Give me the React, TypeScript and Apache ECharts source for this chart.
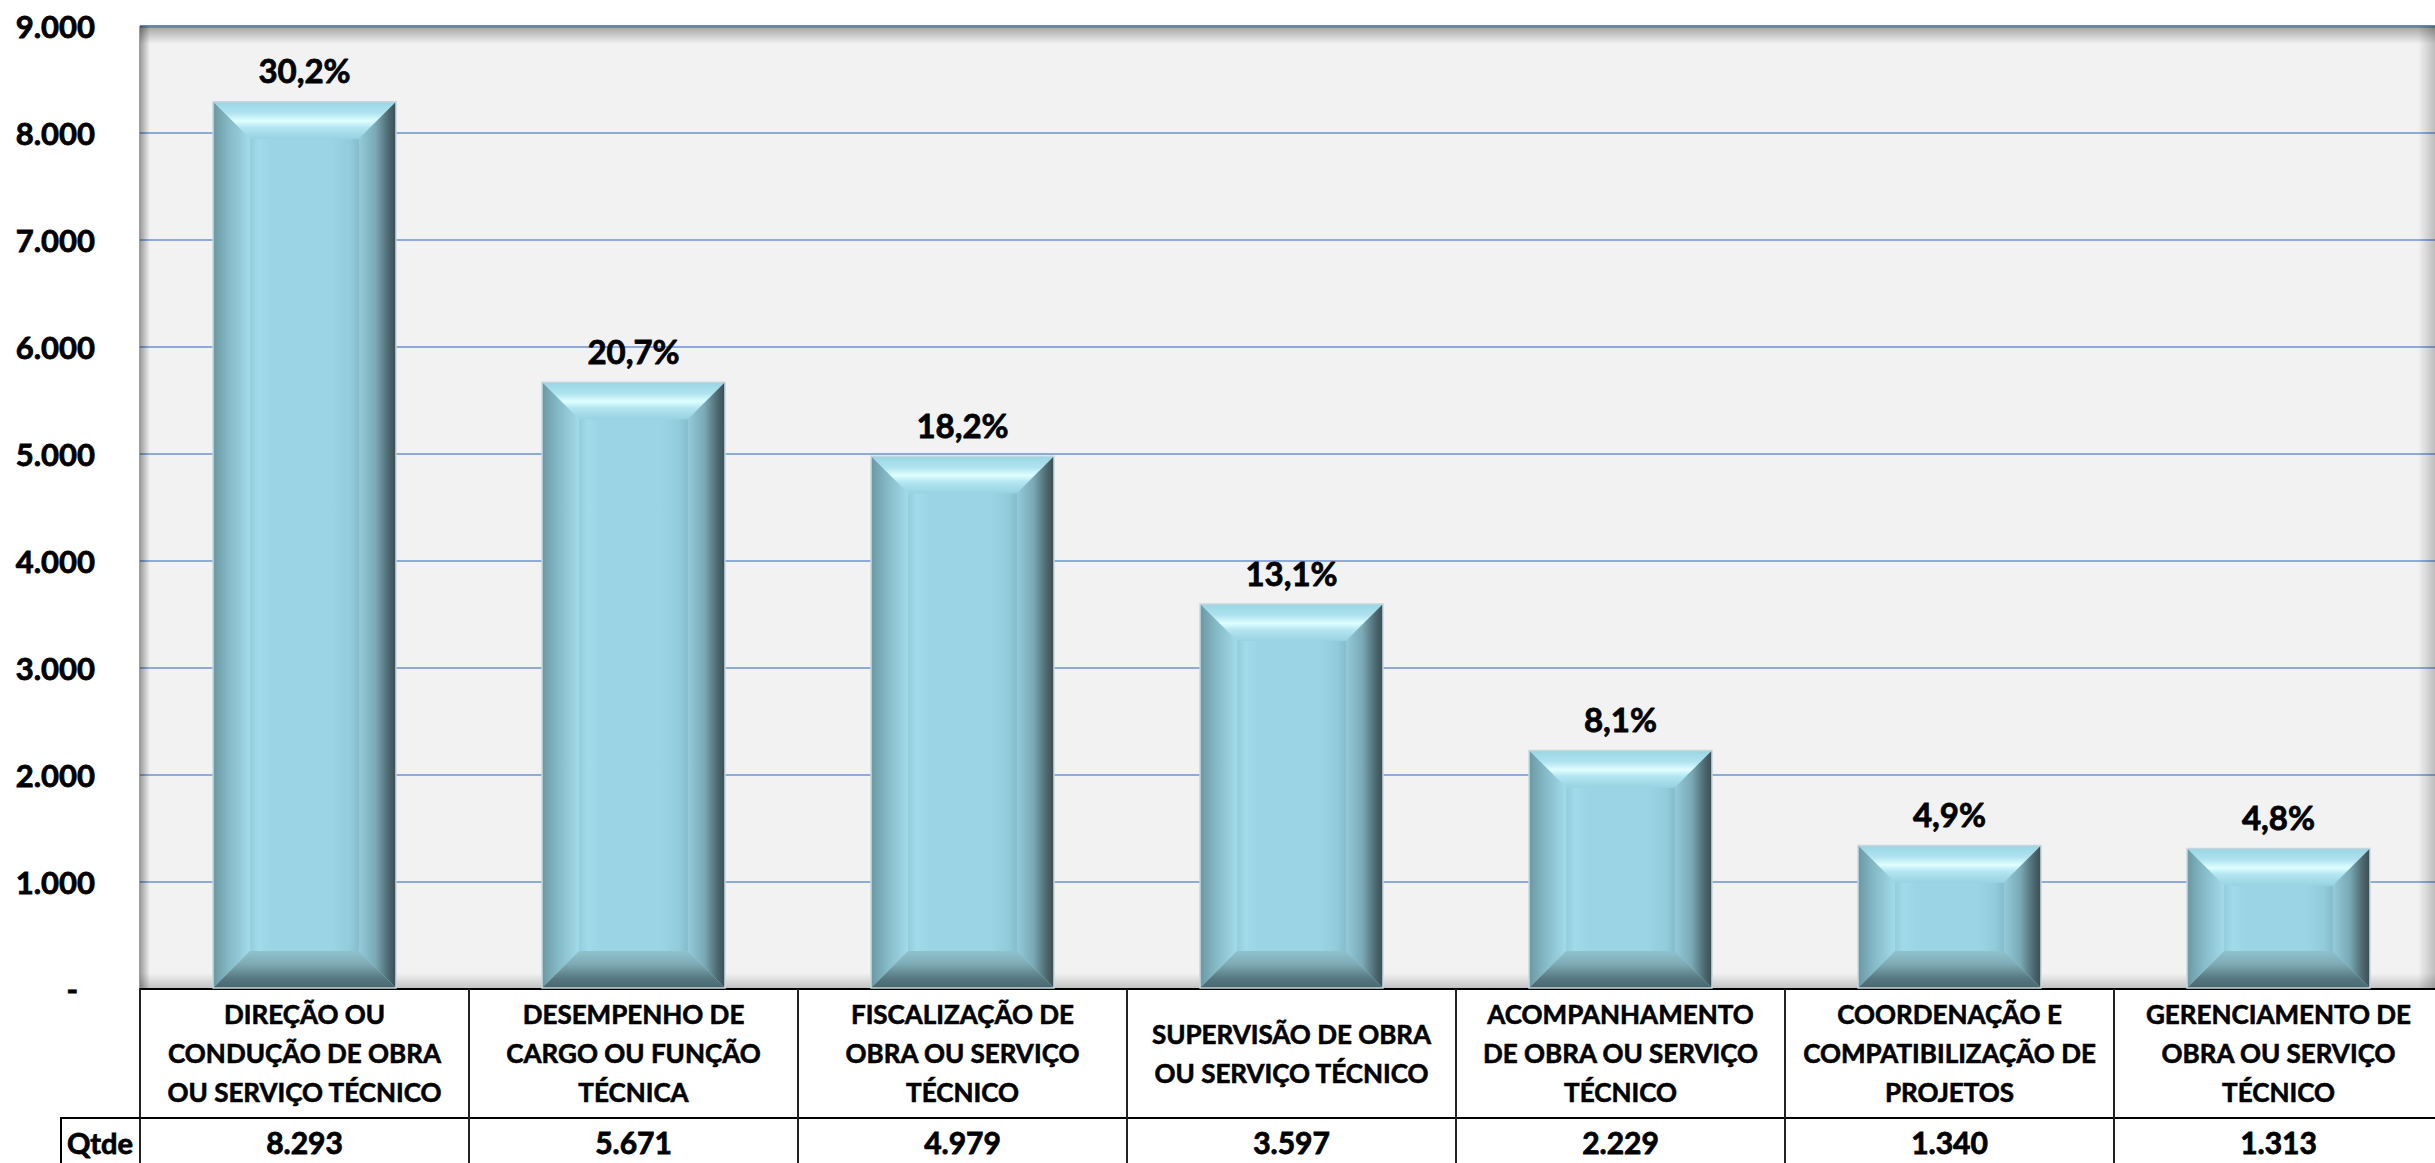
import React, { useEffect, useRef } from 'react';
import * as echarts from 'echarts';

const categories = [
  'DIREÇÃO OU\nCONDUÇÃO DE OBRA\nOU SERVIÇO TÉCNICO',
  'DESEMPENHO DE\nCARGO OU FUNÇÃO\nTÉCNICA',
  'FISCALIZAÇÃO DE\nOBRA OU SERVIÇO\nTÉCNICO',
  'SUPERVISÃO DE OBRA\nOU SERVIÇO TÉCNICO',
  'ACOMPANHAMENTO\nDE OBRA OU SERVIÇO\nTÉCNICO',
  'COORDENAÇÃO E\nCOMPATIBILIZAÇÃO DE\nPROJETOS',
  'GERENCIAMENTO DE\nOBRA OU SERVIÇO\nTÉCNICO',
];
const quantities = [8293, 5671, 4979, 3597, 2229, 1340, 1313];
const percentLabels = ['30,2%', '20,7%', '18,2%', '13,1%', '8,1%', '4,9%', '4,8%'];
const rowHeader = 'Qtde';
const yMin = 0;
const yMax = 9000;
const yInterval = 1000;

const FONT = 'Lato, "Open Sans", sans-serif';
const WEIGHT = 'bold';
const HEAVY = { textBorderColor: '#000', textBorderWidth: 0.8 };

const fmt = (v: number) => String(Math.round(v)).replace(/\B(?=(\d{3})+(?!\d))/g, '.');

const W = 2443;
const H = 1163;
const GL = 140;
const GT = 26;
const GB = 989;

export default function App() {
  const ref = useRef<HTMLDivElement>(null);
  useEffect(() => {
    if (!ref.current) return;
    const chart = echarts.init(ref.current, null, { renderer: 'svg' });
    const lg = (x1: number, y1: number, x2: number, y2: number, stops: [number, string][]) =>
      new echarts.graphic.LinearGradient(x1, y1, x2, y2, stops.map(([offset, color]) => ({ offset, color })));

    const option: any = {
      animation: false,
      backgroundColor: '#ffffff',
      grid: {
        left: GL,
        top: GT,
        right: 0,
        bottom: H - GB,
        show: true,
        backgroundColor: '#f2f2f2',
        borderWidth: 0,
      },
      xAxis: [
        {
          type: 'category',
          data: categories,
          position: 'bottom',
          axisLine: { show: true, lineStyle: { color: '#000', width: 2 } },
          axisTick: { show: true, inside: false, length: 180, interval: 0, lineStyle: { color: '#222', width: 2 } },
          axisLabel: {
            interval: 0,
            margin: 64,
            verticalAlign: 'middle',
            lineHeight: 39,
            fontFamily: FONT,
            fontWeight: WEIGHT,
            fontSize: 26,
            color: '#000',
            ...HEAVY,
            textBorderWidth: 0.6,
          },
          splitLine: { show: false },
        },
        {
          type: 'category',
          data: quantities.map(fmt),
          position: 'bottom',
          offset: 1118 - GB,
          axisLine: { show: true, lineStyle: { color: '#000', width: 2 } },
          axisTick: { show: false },
          axisLabel: {
            interval: 0,
            margin: 24,
            verticalAlign: 'middle',
            fontFamily: FONT,
            fontWeight: WEIGHT,
            fontSize: 30,
            color: '#000',
            ...HEAVY,
          },
          splitLine: { show: false },
        },
      ],
      yAxis: {
        type: 'value',
        min: yMin,
        max: yMax,
        interval: yInterval,
        axisLine: { show: false },
        axisTick: { show: false },
        splitLine: { show: true, lineStyle: { color: '#8eaadb', width: 2 } },
        axisLabel: {
          margin: 45,
          fontFamily: FONT,
          fontWeight: WEIGHT,
          fontSize: 31,
          color: '#000',
          ...HEAVY,
          formatter: (v: number) => (v === 0 ? '{z|-}' : fmt(v)),
          rich: {
            z: { fontFamily: FONT, fontWeight: WEIGHT, fontSize: 31, color: '#000', padding: [0, 17, 0, 0], ...HEAVY },
          },
        },
      },
      graphic: [
        { type: 'rect', z: 1, silent: true, shape: { x: GL, y: GT - 1, width: W - GL, height: 3 }, style: { fill: '#6a86ad' } },
        {
          type: 'rect', z: 1, silent: true,
          shape: { x: GL, y: GT + 2, width: W - GL, height: 16 },
          style: { fill: lg(0, 0, 0, 1, [[0, 'rgba(0,0,0,0.30)'], [1, 'rgba(0,0,0,0)']]) },
        },
        {
          type: 'rect', z: 1, silent: true,
          shape: { x: GL - 1, y: GT, width: 11, height: GB - GT },
          style: { fill: lg(0, 0, 1, 0, [[0, 'rgba(0,0,0,0.40)'], [1, 'rgba(0,0,0,0)']]) },
        },
        {
          type: 'rect', z: 1, silent: true,
          shape: { x: 2418, y: GT, width: 17, height: GB - GT },
          style: { fill: lg(0, 0, 1, 0, [[0, 'rgba(0,0,0,0)'], [1, 'rgba(0,0,0,0.22)']]) },
        },
        {
          type: 'rect', z: 1, silent: true,
          shape: { x: GL, y: GB - 16, width: W - GL, height: 16 },
          style: { fill: lg(0, 0, 0, 1, [[0, 'rgba(0,0,0,0)'], [1, 'rgba(0,0,0,0.20)']]) },
        },
        { type: 'line', z: 5, silent: true, shape: { x1: 61, y1: 1118, x2: GL, y2: 1118 }, style: { stroke: '#000', lineWidth: 2 } },
        { type: 'line', z: 5, silent: true, shape: { x1: 61, y1: 1117, x2: 61, y2: H + 5 }, style: { stroke: '#000', lineWidth: 2 } },
        {
          type: 'text', z: 5, silent: true,
          style: {
            x: 100, y: 1142, text: rowHeader, align: 'center', verticalAlign: 'middle',
            fontFamily: FONT, fontWeight: WEIGHT, fontSize: 29, fill: '#000', stroke: '#000', lineWidth: 0.8,
          },
        },
      ],
      series: [
        {
          type: 'custom',
          xAxisIndex: 0,
          yAxisIndex: 0,
          z: 2,
          data: quantities.map((v, i) => [i, v]),
          encode: { x: 0, y: 1 },
          renderItem: (params: any, api: any) => {
            const idx = api.value(0);
            const v = api.value(1);
            const top = api.coord([idx, v]);
            const bot = api.coord([idx, 0]);
            const w = api.size([1, 0])[0] * 0.556;
            const l = top[0] - w / 2;
            const r = top[0] + w / 2;
            const t = top[1];
            const b = bot[1] - 1;
            const d = Math.min(37, (b - t) / 2, w / 2);
            return {
              type: 'group',
              children: [
                { type: 'rect', shape: { x: l, y: t, width: w, height: b - t }, style: { fill: '#9bd5e5' } },
                {
                  type: 'rect',
                  shape: { x: l + d, y: t + d, width: w - 2 * d, height: b - t - 2 * d },
                  style: {
                    fill: lg(0, 0, 1, 0, [
                      [0, '#93cddc'], [0.08, '#a1dae9'], [0.2, '#9bd5e5'], [0.75, '#9bd5e5'], [0.92, '#92cbda'], [1, '#86bccb'],
                    ]),
                  },
                },
                {
                  type: 'polygon',
                  shape: { points: [[l, t], [r, t], [r - d, t + d], [l + d, t + d]] },
                  style: {
                    fill: lg(0, 0, 0, 1, [
                      [0, '#9ad5e3'], [0.3, '#aee3ef'], [0.52, '#e0feff'], [0.7, '#b3e6f1'], [1, '#98d2e1'],
                    ]),
                  },
                },
                {
                  type: 'polygon',
                  shape: { points: [[l, t], [l + d, t + d], [l + d, b - d], [l, b]] },
                  style: {
                    fill: lg(0, 0, 1, 0, [[0, '#6a98a3'], [0.4, '#83b7c4'], [1, '#a3dbea']]),
                  },
                },
                {
                  type: 'polygon',
                  shape: { points: [[r, t], [r, b], [r - d, b - d], [r - d, t + d]] },
                  style: {
                    fill: lg(0, 0, 1, 0, [[0, '#94cbda'], [0.45, '#79a9b5'], [0.8, '#4d6870'], [1, '#3a4d53']]),
                  },
                },
                {
                  type: 'polygon',
                  shape: { points: [[l, b], [l + d, b - d], [r - d, b - d], [r, b]] },
                  style: {
                    fill: lg(0, 0, 0, 1, [[0, '#8fc2cd'], [0.35, '#7eabb5'], [0.75, '#557780'], [1, '#4a666d']]),
                  },
                },
                {
                  type: 'rect',
                  shape: { x: l, y: t, width: w, height: b - t },
                  style: { fill: 'none', stroke: '#c5d7dc', lineWidth: 1.5 },
                },
              ],
            };
          },
        },
        {
          type: 'bar',
          xAxisIndex: 0,
          yAxisIndex: 0,
          z: 3,
          data: quantities,
          barWidth: '55.6%',
          itemStyle: { color: 'rgba(0,0,0,0)' },
          label: {
            show: true,
            position: 'top',
            distance: 15,
            formatter: (p: any) => percentLabels[p.dataIndex],
            fontFamily: FONT,
            fontWeight: WEIGHT,
            fontSize: 33,
            color: '#000',
            ...HEAVY,
          },
        },
      ],
    };
    chart.setOption(option);
    return () => chart.dispose();
  }, []);

  return (
    <div style={{ position: 'fixed', left: 0, top: 0, width: 2435, height: H, overflow: 'hidden', background: '#fff' }}>
      <div ref={ref} style={{ width: W, height: H }} />
    </div>
  );
}
